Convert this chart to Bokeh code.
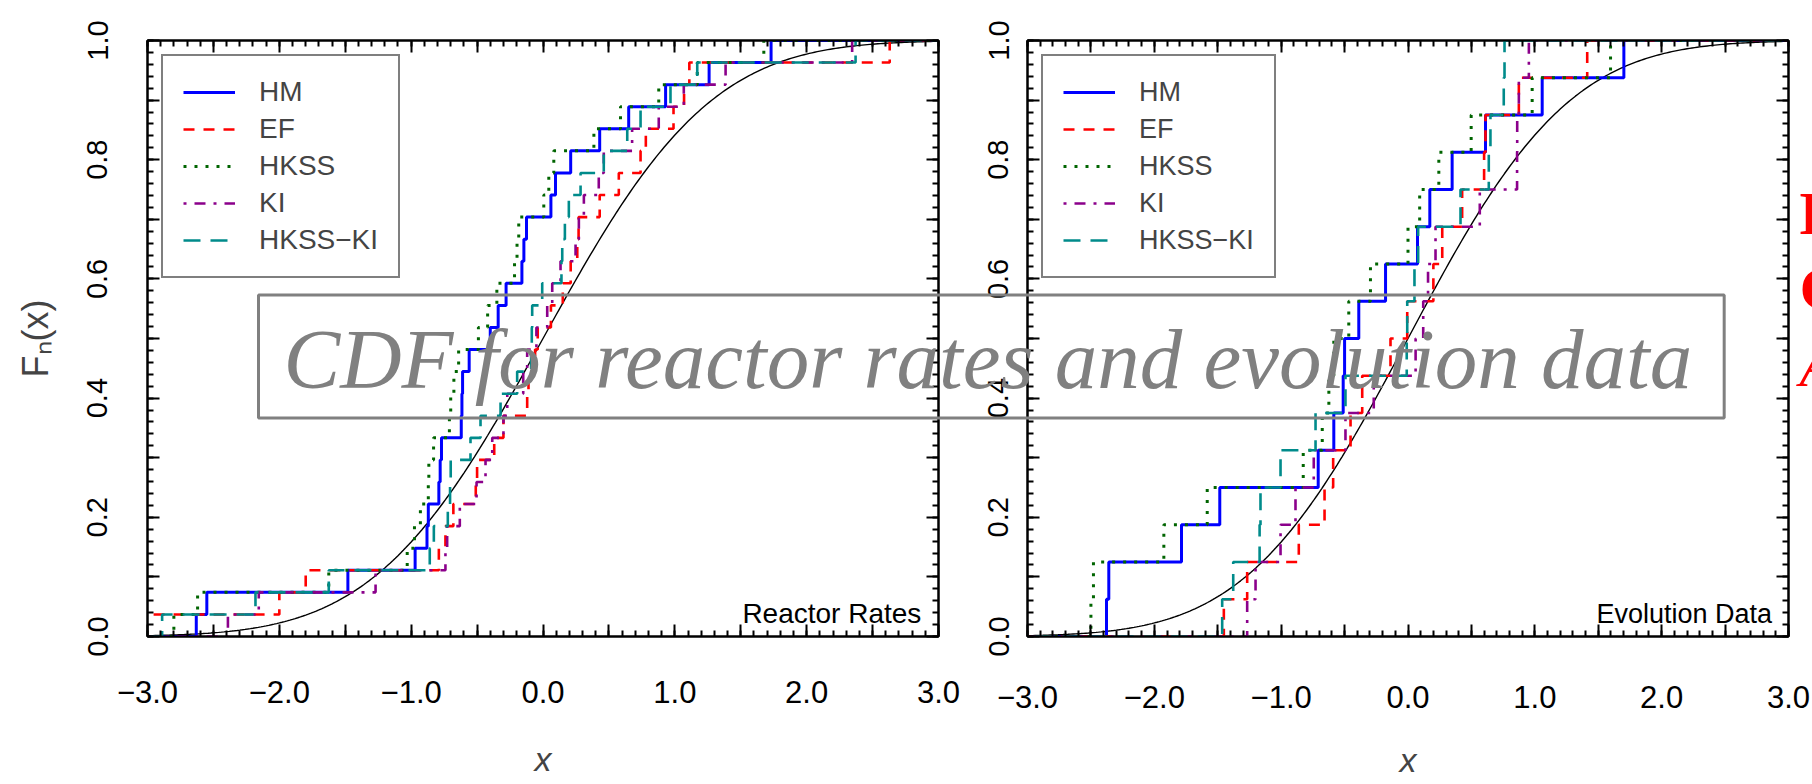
import math
from bokeh.plotting import figure
from bokeh.layouts import row, column
from bokeh.models import FixedTicker, LinearAxis, Label, Legend, LegendItem, Range1d
from bokeh.embed import file_html
from bokeh.resources import INLINE

# ---------------- data ----------------
series_names = ["HM", "EF", "HKSS", "KI", "HKSS\u2212KI"]

# Reactor rates (n = 27), sorted sample values
hm_rr = [-2.63, -2.55, -1.48, -0.97, -0.88, -0.87, -0.79, -0.78, -0.77, -0.62, -0.615, -0.61, -0.56,
         -0.40, -0.34, -0.28, -0.16, -0.145, -0.125, 0.06, 0.095, 0.21, 0.43, 0.65, 0.93, 1.26, 1.73]
ef_rr = [-3.2, -2.0, -1.8, -0.79, -0.74, -0.68, -0.51, -0.50, -0.37, -0.30, -0.12, -0.11, -0.06,
         -0.04, 0.06, 0.15, 0.21, 0.26, 0.27, 0.43, 0.575, 0.74, 0.78, 0.99, 1.07, 1.11, 2.63]
hkss_rr = [-2.8, -2.62, -1.625, -1.03, -0.975, -0.93, -0.87, -0.866, -0.83, -0.71, -0.70, -0.676, -0.64,
           -0.49, -0.42, -0.35, -0.216, -0.197, -0.184, 0.006, 0.044, 0.082, 0.386, 0.588, 0.878, 1.17, 1.675]
ki_rr = [-2.39, -2.156, -1.27, -0.74, -0.727, -0.631, -0.504, -0.436, -0.385, -0.30, -0.271, -0.15, -0.12,
         -0.05, 0.032, 0.07, 0.133, 0.247, 0.272, 0.31, 0.423, 0.461, 0.676, 0.878, 1.068, 1.385, 2.345]
hkki_rr = [-2.889, -2.181, -1.625, -0.859, -0.828, -0.722, -0.705, -0.70, -0.55, -0.474, -0.322, -0.196,
           -0.09, -0.085, -0.082, -0.006, 0.14, 0.146, 0.166, 0.196, 0.285, 0.461, 0.639, 0.74, 0.967, 1.17, 2.371]

# Evolution data (n = 16), sorted sample values
hm_ev = [-2.377, -2.359, -1.786, -1.484, -0.708, -0.585, -0.511, -0.50, -0.388, -0.177, 0.075, 0.172,
         0.348, 0.611, 1.058, 1.702]
ef_ev = [-1.452, -1.268, -0.861, -0.658, -0.59, -0.453, -0.361, -0.138, -0.006, 0.20, 0.27, 0.427,
         0.60, 0.611, 0.874, 1.413]
hkss_ev = [-2.50, -2.48, -1.925, -1.583, -0.826, -0.676, -0.624, -0.585, -0.467, -0.296, 0.0, 0.092,
           0.243, 0.498, 0.979, 1.597]
ki_ev = [-1.268, -1.202, -1.005, -0.887, -0.743, -0.493, -0.27, 0.06, 0.12, 0.158, 0.217, 0.566,
         0.86, 0.861, 0.874, 0.953]
hkki_ev = [-1.465, -1.378, -1.17, -1.163, -1.005, -0.729, -0.493, -0.01, -0.006, 0.051, 0.08, 0.414,
           0.637, 0.65, 0.755, 0.761]

# axis ticks and labels
x_major = [-3.0, -2.5, -2.0, -1.5, -1.0, -0.5, 0.0, 0.5, 1.0, 1.5, 2.0, 2.5, 3.0]
x_labels = ["\u22123.0", "", "\u22122.0", "", "\u22121.0", "", "0.0", "", "1.0", "", "2.0", "", "3.0"]
y_major = [0.0, 0.1, 0.2, 0.3, 0.4, 0.5, 0.6, 0.7, 0.8, 0.9, 1.0]
y_labels = ["0.0", "", "0.2", "", "0.4", "", "0.6", "", "0.8", "", "1.0"]
x_minor = [round(-3.0 + 0.1 * i, 2) for i in range(61)]
y_minor = [round(0.02 * i, 2) for i in range(51)]

panel_titles = ["Reactor Rates", "Evolution Data"]
watermark = "CDF for reactor rates and evolution data"
side_text = ["H", "C", "A"]

# ---------------- styles ----------------
colors = ["#0000FF", "#FF0000", "#006400", "#8B008B", "#008B8B"]
dashes = ["solid", "11 9", "3 8", "3 8 11 8", "17 10"]
widths = [3, 2.6, 3, 2.6, 2.6]
SANS = "Liberation Sans"
SERIF = "Liberation Serif"


def ecdf_xy(vals):
    s = sorted(vals)
    n = len(s)
    xs = [-4.0] + s + [4.0]
    ys = [0.0] + [(i + 1) / n for i in range(n)] + [1.0]
    return xs, ys


def phi_curve():
    xs = [-3.0 + 0.02 * i for i in range(301)]
    ys = [0.5 * (1.0 + math.erf(v / math.sqrt(2.0))) for v in xs]
    return xs, ys


def style_axis(ax, ticks, minor, overrides, font_size, standoff):
    ax.ticker = FixedTicker(ticks=ticks, minor_ticks=minor)
    ax.axis_line_width = 2
    ax.axis_line_color = "black"
    ax.major_tick_in = 12
    ax.major_tick_out = 0
    ax.minor_tick_in = 6
    ax.minor_tick_out = 0
    ax.major_tick_line_width = 2
    ax.minor_tick_line_width = 2
    ax.major_tick_line_color = "black"
    ax.minor_tick_line_color = "black"
    ax.major_label_overrides = overrides
    ax.major_label_text_font = SANS
    ax.major_label_text_font_size = font_size
    ax.major_label_text_color = "black"
    ax.major_label_standoff = standoff


def make_panel(width, mbl, mbr, mbt, mbb, data, title, font_px, xstd, xtstd, ystd, ytitle):
    p = figure(width=width, height=784, x_range=Range1d(-3, 3), y_range=Range1d(0, 1),
               output_backend="svg", toolbar_location=None, min_border=0,
               min_border_left=mbl, min_border_right=mbr, min_border_top=mbt, min_border_bottom=mbb)
    p.xgrid.visible = False
    p.ygrid.visible = False
    p.outline_line_color = "black"
    p.outline_line_width = 2
    p.background_fill_color = "white"
    p.border_fill_color = "white"

    xo = dict(zip(x_major, x_labels))
    yo = dict(zip(y_major, y_labels))
    style_axis(p.xaxis[0], x_major, x_minor, xo, "31px", xstd)
    style_axis(p.yaxis[0], y_major, y_minor, yo, "29px", ystd)
    p.yaxis[0].major_label_orientation = "vertical"
    p.xaxis[0].axis_label = "x"
    p.xaxis[0].axis_label_text_font = SANS
    p.xaxis[0].axis_label_text_font_style = "italic"
    p.xaxis[0].axis_label_text_font_size = "34px"
    p.xaxis[0].axis_label_standoff = xtstd
    if ytitle:
        p.yaxis[0].axis_label = ytitle
        p.yaxis[0].axis_label_text_font = SANS
        p.yaxis[0].axis_label_text_font_style = "normal"
        p.yaxis[0].axis_label_text_font_size = "36px"
        p.yaxis[0].axis_label_standoff = 29

    top = LinearAxis()
    right = LinearAxis()
    style_axis(top, x_major, x_minor, {k: "" for k in x_major}, "1px", 0)
    style_axis(right, y_major, y_minor, {k: "" for k in y_major}, "1px", 0)
    p.add_layout(top, "above")
    p.add_layout(right, "right")

    cx, cy = phi_curve()
    p.line(cx, cy, line_color="black", line_width=1.4)

    rends = []
    for vals, col, dsh, w in zip(data, colors, dashes, widths):
        xs, ys = ecdf_xy(vals)
        r = p.step(xs, ys, mode="after", line_color=col, line_dash=dsh, line_width=w)
        rends.append(r)

    items = [LegendItem(label=nm, renderers=[r]) for nm, r in zip(series_names, rends)]
    leg = Legend(items=items, location="top_left", margin=14, padding=20, spacing=5,
                 glyph_width=52, glyph_height=32, label_height=32, label_standoff=24,
                 label_text_font=SANS, label_text_font_size=font_px,
                 border_line_color="black", border_line_width=2,
                 background_fill_color="white", background_fill_alpha=1.0)
    p.add_layout(leg)

    p.add_layout(Label(x=2.87, y=0.038, text=title, text_align="right", text_baseline="alphabetic",
                       text_font=SANS, text_font_size=font_px, text_color="black"))
    return p


left = make_panel(960, 147, 22, 37, 143, [hm_rr, ef_rr, hkss_rr, ki_rr, hkki_rr],
                  panel_titles[0], "28px", 44, 34, 40, "F\u2099(x)")
right = make_panel(852, 67, 24, 40, 148, [hm_ev, ef_ev, hkss_ev, ki_ev, hkki_ev],
                   panel_titles[1], "27px", 49, 30, 19, None)

# transparent overlay over the whole page (page-pixel coordinates, y downwards)
overlay = figure(width=1812, height=784, x_range=Range1d(0, 1812), y_range=Range1d(784, 0),
                 output_backend="svg", toolbar_location=None, min_border=0,
                 x_axis_type=None, y_axis_type=None)
overlay.outline_line_color = None
overlay.background_fill_alpha = 0
overlay.border_fill_alpha = 0
overlay.margin = (-784, 0, 0, 0)

# boxed watermark: box centred at y=356, left edge at x=258; padding (left, right, top, bottom)
overlay.add_layout(Label(x=258, y=356, text=watermark, text_align="left", text_baseline="middle",
                         text_font=SERIF, text_font_style="italic", text_font_size="85px",
                         text_color="#808080", border_line_color="#808080", border_line_width=3,
                         padding=(25, 32, 17, 12)))

for txt, ypx, style in zip(side_text, [212, 287, 364], ["bold", "bold", "italic"]):
    overlay.add_layout(Label(x=1799, y=ypx, text=txt, text_align="left", text_baseline="alphabetic",
                             text_font=SERIF, text_font_style=style, text_font_size="62px",
                             text_color="#FF0000"))

layout = column(row(left, right, spacing=0), overlay, spacing=0)
open("out.html", "w").write(file_html(layout, INLINE))
